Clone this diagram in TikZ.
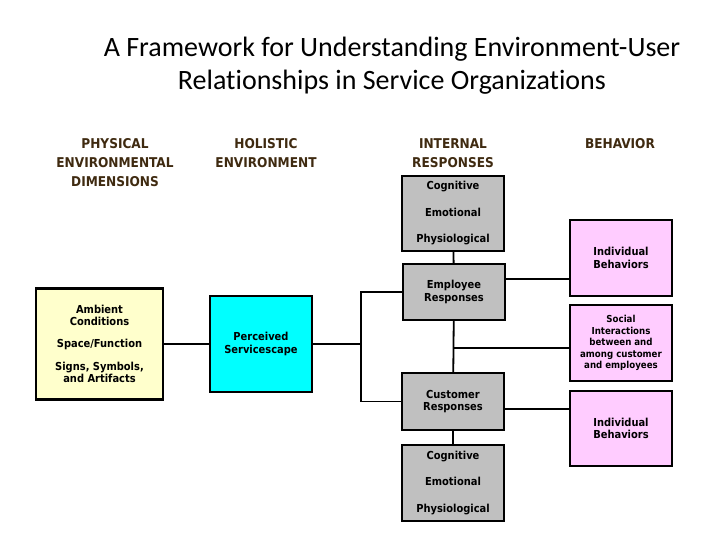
\documentclass[tikz,border=0pt]{standalone}
\usepackage{fontspec}
\setmainfont{Carlito}[Ligatures=NoCommon]
\newfontfamily\boxfont{DejaVu Sans Condensed}
\usepackage{tikz}
\usetikzlibrary{positioning,calc}
\definecolor{hdrbrown}{HTML}{3F2A10}
\definecolor{boxgray}{HTML}{C0C0C0}
\definecolor{boxpink}{HTML}{FFCCFF}
\definecolor{boxyellow}{HTML}{FFFFCC}
\definecolor{boxcyan}{HTML}{00FFFF}

\begin{document}
\begin{tikzpicture}[x=1pt, y=-1pt, line width=1.8pt,
  main box/.style={rectangle,draw,line width=2.2pt,align=center,inner sep=0pt,minimum width=102pt},
  gray box/.style={main box,fill=boxgray},
  pink box/.style={main box,fill=boxpink},
  head text/.style={align=center,text=hdrbrown,font=\boxfont\fontsize{13.5}{19}\selectfont\bfseries}]
\useasboundingbox (0,0) rectangle (720,540);
% title and column heads
\node[align=center,font=\fontsize{28}{33}\selectfont] (title) at (392,65.5) {A Framework for Understanding Environment-User\\Relationships in Service Organizations};
\node[head text] (hphys) at (115,163) {PHYSICAL\\ENVIRONMENTAL\\DIMENSIONS};
\node[head text] (hholi) at (266,153.5) {HOLISTIC\\ENVIRONMENT};
\node[head text] (hintr) at (453,153.5) {INTERNAL\\RESPONSES};
\node[head text] (hbeha) at (620,144) {BEHAVIOR};
% boxes
\begin{scope}[every node/.append style={font=\boxfont\bfseries\fontsize{11}{12.5}\selectfont}]
\node[main box,fill=boxyellow,minimum width=127pt,minimum height=111pt,font=\boxfont\bfseries\fontsize{11}{12}\selectfont] (dims) at (99.5,344) {Ambient\\Conditions\\[10pt]Space/Function\\[11pt]Signs, Symbols,\\and Artifacts};
\node[main box,fill=boxcyan,minimum height=96pt] (scape) at (261,344) {Perceived\\Servicescape};
\node[gray box,minimum height=75pt,font=\boxfont\bfseries\fontsize{11}{26.5}\selectfont] (empint) at (453,213.5) {Cognitive\\Emotional\\Physiological};
\node[gray box,minimum height=56pt] (emp) at (454,292) {Employee\\Responses};
\node[gray box,minimum height=57pt] (cust) at (453,401.5) {Customer\\Responses};
\node[gray box,minimum height=76pt,font=\boxfont\bfseries\fontsize{11}{26.5}\selectfont] (custint) at (453,483) {Cognitive\\Emotional\\Physiological};
\node[pink box,minimum height=76pt] (bhv1) at (621,258) {Individual\\Behaviors};
\node[pink box,minimum height=76pt,font=\boxfont\bfseries\fontsize{9.6}{11.5}\selectfont] (social) at (621,343) {Social\\Interactions\\between and\\among customer\\and employees};
\node[pink box,minimum height=75pt] (bhv2) at (621,428.5) {Individual\\Behaviors};
\end{scope}
% connectors
\coordinate (split) at ($(scape.east)+(48,0)$);
\draw (dims) -- (scape);
\draw (scape) -- (split);
\draw (emp.west) -| (split) |- (cust.west);
\draw (empint) -- (emp);
\draw (emp) -- (cust);
\draw (cust) -- (custint);
\draw ([yshift=13pt]emp.east) -- ([yshift=13pt]emp.east -| bhv1.west);
\draw ([yshift=-5pt]social.west) -- ([yshift=-5pt]social.west -| emp.south);
\draw ([yshift=-7.5pt]cust.east) -- ([yshift=-7.5pt]cust.east -| bhv2.west);
\end{tikzpicture}
\end{document}
